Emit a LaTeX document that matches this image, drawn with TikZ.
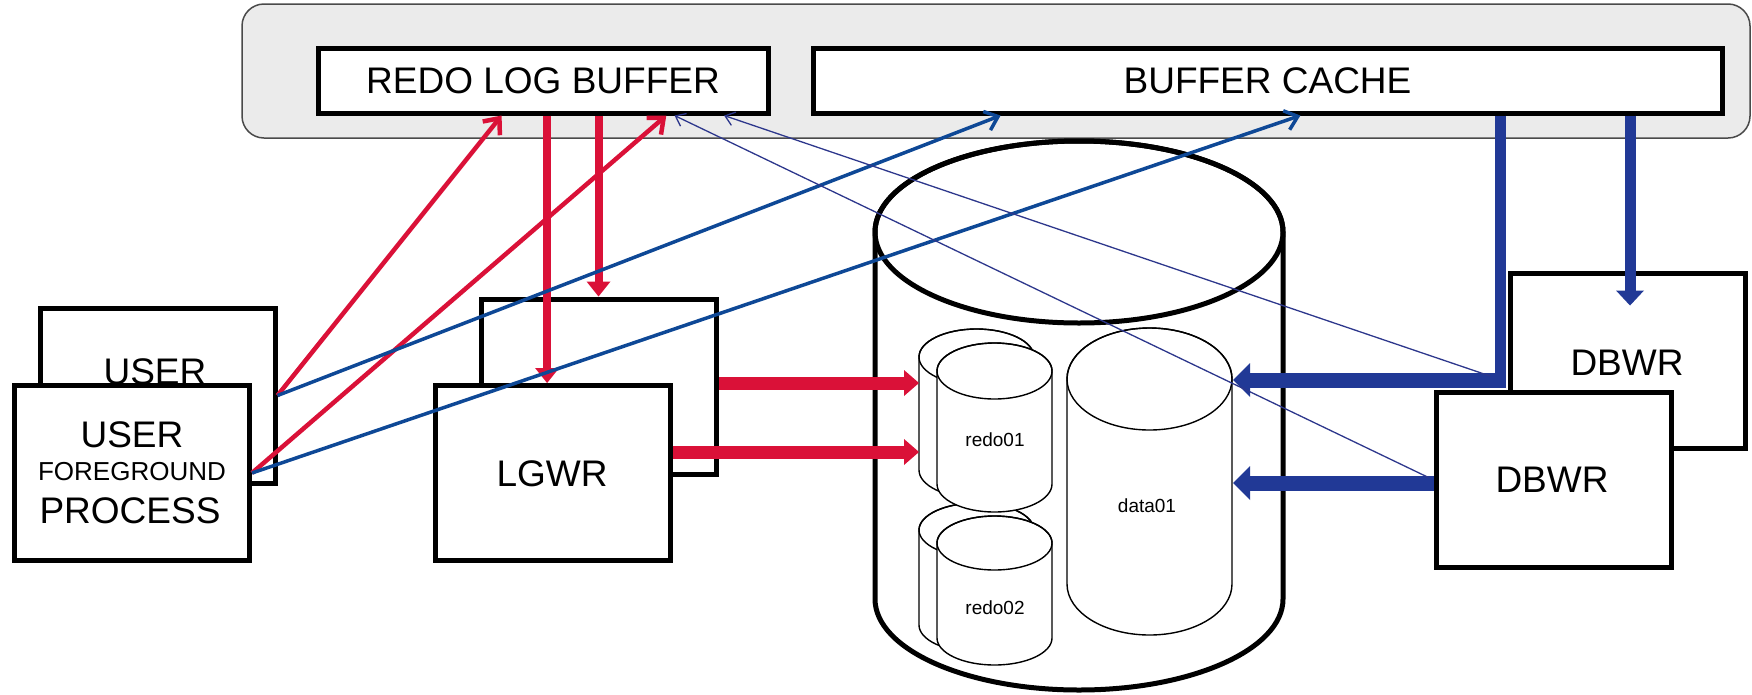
\documentclass[tikz,border=0pt]{standalone}
\usepackage{fontspec}
\setmainfont{Liberation Sans}
\usetikzlibrary{arrows.meta,calc}

\definecolor{sgafill}{HTML}{EBEBEB}
\definecolor{sgaline}{HTML}{4A4A4A}
\definecolor{logred}{RGB}{218,17,56}
\definecolor{userblue}{RGB}{14,72,150}
\definecolor{dbwrblue}{RGB}{33,57,150}
\definecolor{hintblue}{RGB}{45,55,140}

% cylinder: centre x, top centre y, bottom centre y, x radius, y radius, line width
\newcommand\drawcyl[6]{%
  \filldraw[fill=white,line width=#6]
    ({#1-#4},#2) -- ({#1-#4},#3)
    arc[start angle=180,end angle=0,x radius=#4,y radius=#5]
    -- ({#1+#4},#2)
    arc[start angle=0,end angle=-180,x radius=#4,y radius=#5] -- cycle;
  \draw[line width=#6] (#1,#2) ellipse[x radius=#4,y radius=#5];}

\begin{document}
\begin{tikzpicture}[x=1pt,y=-1pt,
  procbox/.style={draw=black,line width=5pt,fill=white,minimum width=235pt,
    minimum height=175pt,inner sep=0pt},
  bufbox/.style={draw=black,line width=5pt,fill=white,minimum height=65pt,
    inner sep=0pt,font=\fontsize{37}{40}\selectfont},
  bigtxt/.style={font=\fontsize{37}{40}\selectfont,inner sep=0pt},
  midtxt/.style={font=\fontsize{26}{30}\selectfont,inner sep=0pt},
  filetxt/.style={font=\fontsize{19}{22}\selectfont,inner sep=0pt},
  redbar/.style={draw=logred,line width=13pt,
    -{Triangle[length=15pt,width=26pt,line width=0pt]}},
  redvert/.style={draw=logred,line width=8pt,
    -{Triangle[length=15pt,width=24pt,line width=0pt]}},
  bluebar/.style={draw=dbwrblue,line width=15pt,
    -{Triangle[length=17pt,width=34pt,line width=0pt]}},
  bluevert/.style={draw=dbwrblue,line width=11pt,
    -{Triangle[length=15pt,width=28pt,line width=0pt]}},
  reddiag/.style={draw=logred,line width=4.5pt,
    -{Straight Barb[length=13pt,width=22pt]}},
  bluediag/.style={draw=userblue,line width=3.5pt,
    -{Straight Barb[length=12pt,width=20pt]}},
  hint/.style={draw=hintblue,line width=1.3pt,
    -{Straight Barb[length=9pt,width=14pt]}}
]
\useasboundingbox (0,0) rectangle (1752,694);

% shared memory area with its two buffers
\node[draw=sgaline,line width=1.5pt,fill=sgafill,rounded corners=22pt,
  minimum width=1508pt,minimum height=134pt] (sga) at (996,71) {};
\node[bufbox,minimum width=450pt] (redo) at (543,80.5) {REDO LOG BUFFER};
\node[bufbox,minimum width=909pt] (cache) at (1267.5,80.5) {BUFFER CACHE};

% user processes
\node[procbox] (userback) at (157.5,395.5) {};
\node[bigtxt] (userbacktxt) at (155,372) {USER};
\node[procbox] (userfront) at (132,473) {};
\node[bigtxt] (usertxt) at (132,435) {USER};
\node[midtxt] (fgtxt) at (132,472) {FOREGROUND};
\node[bigtxt] (proctxt) at (130,511) {PROCESS};

% log writer
\node[procbox] (lgwrback) at (599,386.5) {};
\node[procbox] (lgwrfront) at (552.5,473) {};
\node[bigtxt] (lgwrtxt) at (552,474) {LGWR};

% database writers
\node[procbox] (dbwrback) at (1627.5,360.5) {};
\node[bigtxt] (dbwrbacktxt) at (1627,363) {DBWR};
\node[procbox] (dbwrfront) at (1553.5,479.5) {};
\node[bigtxt] (dbwrfronttxt) at (1552,480) {DBWR};

% database with its files
\drawcyl{1079}{232}{599}{204}{91}{5pt}
\drawcyl{976.5}{530}{625}{57.5}{27}{1.4pt}
\drawcyl{994.5}{543}{638}{57.5}{27}{1.4pt}
\drawcyl{976.5}{357}{470}{57.5}{28}{1.4pt}
\drawcyl{994.5}{371}{484}{57.5}{28}{1.4pt}
\drawcyl{1149.5}{379}{584}{82.5}{51}{1.4pt}
\node[filetxt] (redo01) at (995,440) {redo01};
\node[filetxt] (redo02) at (995,608) {redo02};
\node[filetxt] (data01) at (1147,506) {data01};

\coordinate (redoinA) at (919,383);
\coordinate (redoinB) at (919,452);
\coordinate (datainA) at (1233,380);
\coordinate (datainB) at (1233,483);
\coordinate (junction) at (1506,380);

% LGWR writes the online redo logs
\draw[redbar] (lgwrback.east |- redoinA) -- (redoinA);
\draw[redbar] ($(lgwrfront.east |- redoinB)$) -- (redoinB);

% LGWR reads the redo log buffer
\path ($(redo.south west)!0.509!(redo.south east)$) coordinate (rv1);
\path ($(redo.south west)!0.622!(redo.south east)$) coordinate (rv2);
\draw[redvert] (rv1) -- (rv1 |- lgwrfront.north);
\draw[redvert] (rv2) -- (rv2 |- lgwrback.north);

% DBWR reads the buffer cache and writes the data file
\path ($(cache.south west)!0.7547!(cache.south east)$) coordinate (bv1);
\path ($(cache.south west)!0.8966!(cache.south east)$) coordinate (bv2);
\draw[draw=dbwrblue,line width=11pt] (bv1) -- ($(bv1 |- junction)+(0,7)$);
\draw[bluebar] (junction) -- (datainA);
\draw[bluebar] (dbwrfront.west |- datainB) -- (datainB);
\draw[bluevert] (bv2) -- ($(bv2 |- dbwrback.north)+(0,35)$);

% user process writes into both buffers
\draw[reddiag] (userback.east) -- ($(redo.south west)!0.409!(redo.south east)$);
\draw[reddiag] (userfront.east) -- ($(redo.south west)!0.771!(redo.south east)$);
\draw[bluediag] (userback.east) -- ($(cache.south west)!0.208!(cache.south east)$);
\draw[bluediag] (userfront.east) -- ($(cache.south west)!0.536!(cache.south east)$);

% DBWR signals back to the redo log buffer
\draw[hint] ($(junction)+(-16,-4)$) -- ($(redo.south west)!0.898!(redo.south east)$);
\draw[hint] ($(dbwrfront.west)+(-5,-2)$) -- ($(redo.south west)!0.789!(redo.south east)$);
\end{tikzpicture}
\end{document}
